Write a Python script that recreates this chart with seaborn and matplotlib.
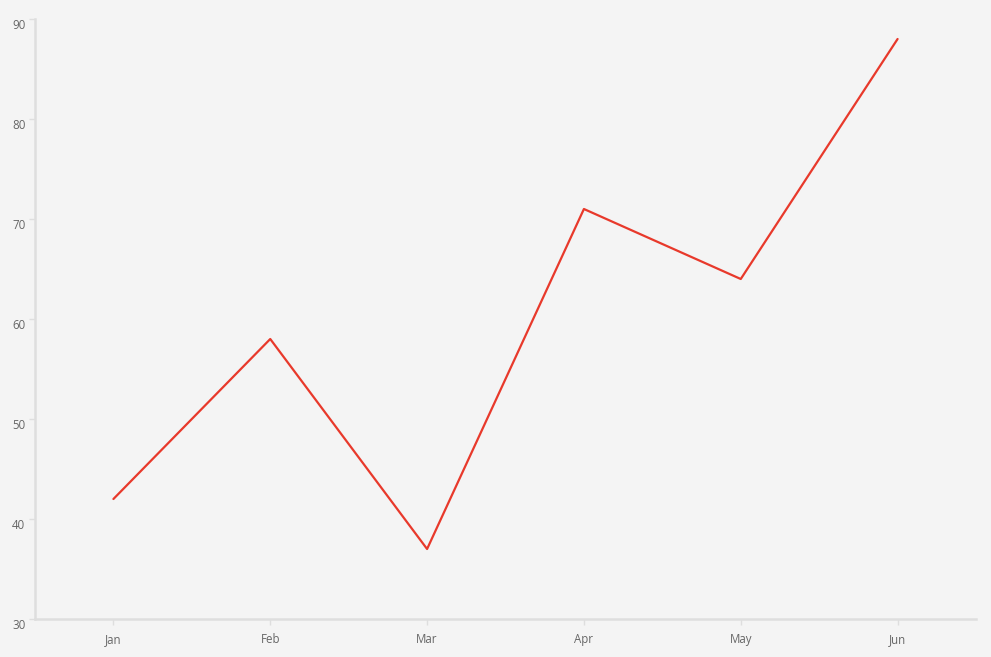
import matplotlib
matplotlib.use("Agg")
import matplotlib.pyplot as plt
import seaborn as sns
import pandas as pd

months = ["Jan", "Feb", "Mar", "Apr", "May", "Jun"]
values = [42, 58, 37, 71, 64, 88]
y_ticks = [30, 40, 50, 60, 70, 80, 90]

sns.set_theme(style="white")
plt.rcParams['font.family'] = ['Open Sans', 'DejaVu Sans']

bg = "#f4f4f4"
fig = plt.figure(figsize=(9.91, 6.57), dpi=100, facecolor=bg)
ax = fig.add_axes([35/991, 38/657, (976-35)/991, (619-19)/657])
ax.set_facecolor(bg)

df = pd.DataFrame({"month": months, "value": values})
sns.lineplot(data=df, x="month", y="value", ax=ax, color="#e8392b", linewidth=1.6, sort=False)

ax.set_xlim(-0.5, len(months) - 0.5)
ax.set_ylim(30, 90)
ax.set_yticks(y_ticks)
ax.set_xlabel("")
ax.set_ylabel("")

for s in ["top", "right"]:
    ax.spines[s].set_visible(False)
for s in ["left", "bottom"]:
    ax.spines[s].set_color("#dedede")
    ax.spines[s].set_linewidth(1.8)

ax.tick_params(axis="both", colors="#dedede", labelcolor="#666666", labelsize=8.3,
               length=4, width=1, direction="out", left=True, bottom=True)
ax.tick_params(axis="x", pad=6)
ax.tick_params(axis="y", pad=3)
for lbl in ax.get_yticklabels():
    lbl.set_verticalalignment("top")

fig.savefig("out.png", dpi=100, facecolor=bg)
